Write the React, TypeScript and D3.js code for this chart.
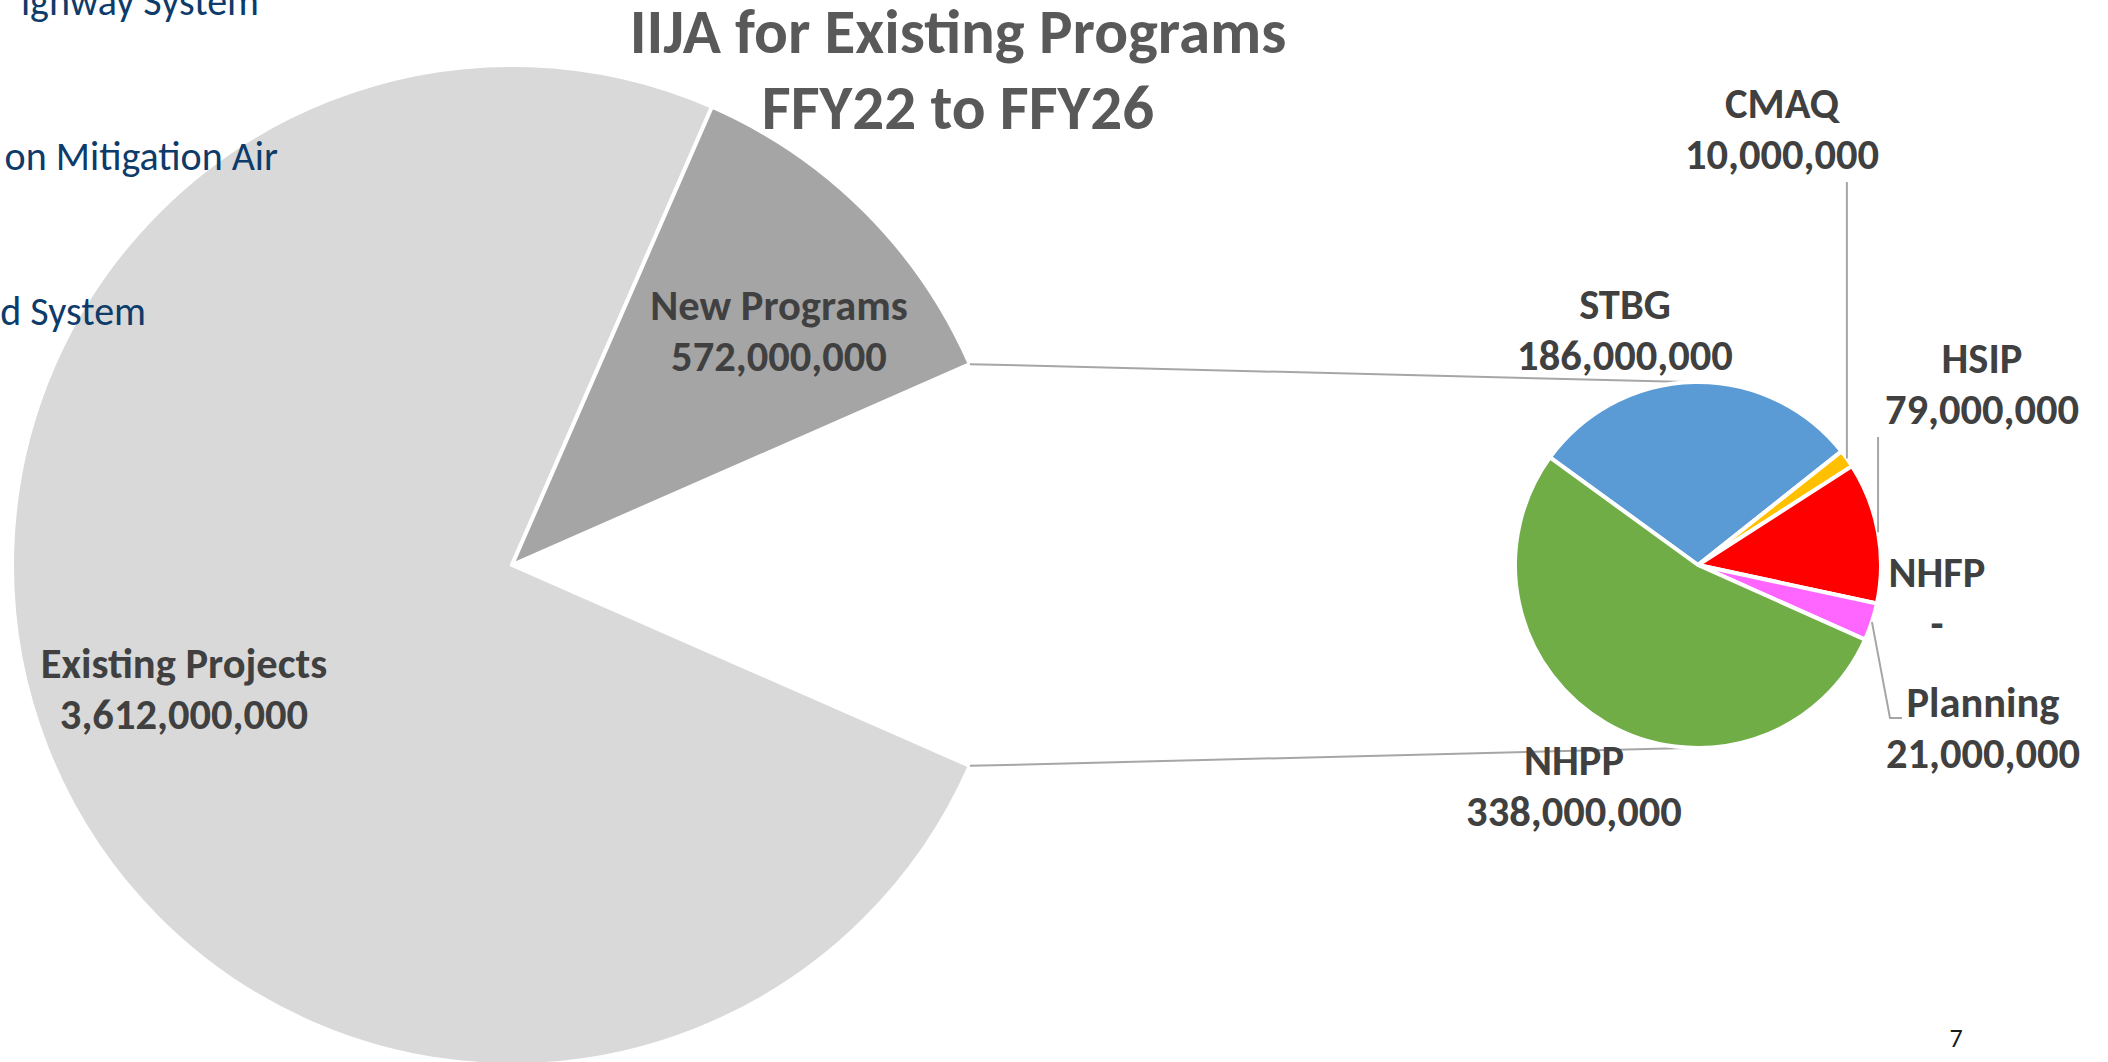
import React from "react";
import * as d3 from "d3";

// ---------- data ----------
const mainCategories = ["Existing Projects", "New Programs"];
const mainValues = [3612000000, 572000000];
const mainColors = ["#d9d9d9", "#a5a5a5"];

const subCategories = ["STBG", "CMAQ", "HSIP", "NHFP", "Planning", "NHPP"];
const subValues = [186000000, 10000000, 79000000, 0, 21000000, 338000000];
const subColors = ["#5b9bd5", "#ffc000", "#ff0000", "#a5a5a5", "#ff66ff", "#70ad47"];

const titleLines = ["IIJA for Existing Programs", "FFY22 to FFY26"];
const sideTextLines = ["ighway System", "on Mitigation Air", "d System"];
const pageNumber = "7";

// ---------- layout ----------
const W = 2108;
const H = 1062;
const FONT = "Carlito, Calibri, Lato, sans-serif";
const LABEL_COLOR = "#404040";
const LINE_COLOR = "#a6a6a6";
const LINE_GAP = 51;
const LABEL_SIZE = 42.5;

const MAIN = { cx: 512, cy: 565, r: 500 };
const SUB = { cx: 1698, cy: 565, r: 183, startDeg: -54 };

const mainLabelPos: Record<string, [number, number]> = {
  "Existing Projects": [184, 678],
  "New Programs": [779, 320],
};
const subLabelPos: Record<string, [number, number]> = {
  STBG: [1625, 319],
  CMAQ: [1782, 118],
  HSIP: [1982, 373],
  NHFP: [1937, 587],
  Planning: [1983, 717],
  NHPP: [1574, 775],
};
const sideTextEnds = [259, 278, 146];
// leader end points (label side); x of 0 means "same x as slice point"
const leaderEnds: Record<string, [number, number][]> = {
  CMAQ: [[0, 182]],
  HSIP: [[0, 437]],
  Planning: [[1890, 718], [1902, 718]],
};

const fmt = (v: number) => (v === 0 ? "-" : d3.format(",")(v));

export default function App() {
  const otherValue = d3.sum(subValues);
  const rad = Math.PI / 180;

  // main pie: [Other, Existing, New], with "Other" centred at 3 o'clock
  const mainData = [
    { name: "__other", value: otherValue, color: "none" },
    ...mainCategories.map((c, i) => ({ name: c, value: mainValues[i], color: mainColors[i] })),
  ];
  const total = d3.sum(mainData, (d) => d.value);
  const otherSpan = (otherValue / total) * 2 * Math.PI;
  const mainStart = Math.PI / 2 - otherSpan / 2;
  const mainPie = d3
    .pie<any>()
    .sort(null)
    .value((d) => d.value)
    .startAngle(mainStart)
    .endAngle(mainStart + 2 * Math.PI)(mainData);
  const mainArc = d3.arc<any>().innerRadius(0).outerRadius(MAIN.r);

  const subData = subCategories.map((c, i) => ({ name: c, value: subValues[i], color: subColors[i] }));
  const subStart = SUB.startDeg * rad;
  const subPie = d3
    .pie<any>()
    .sort(null)
    .value((d) => d.value)
    .startAngle(subStart)
    .endAngle(subStart + 2 * Math.PI)(subData);
  const subArc = d3.arc<any>().innerRadius(0).outerRadius(SUB.r);

  const otherSlice = mainPie[0];
  const pt = (cx: number, cy: number, r: number, a: number): [number, number] => [
    cx + r * Math.sin(a),
    cy - r * Math.cos(a),
  ];
  const c1a = pt(MAIN.cx, MAIN.cy, MAIN.r, otherSlice.startAngle);
  const c2a = pt(MAIN.cx, MAIN.cy, MAIN.r, otherSlice.endAngle);
  const c1b: [number, number] = [SUB.cx - 10, SUB.cy - SUB.r];
  const c2b: [number, number] = [SUB.cx - 10, SUB.cy + SUB.r];

  const line = d3.line();

  return (
    <svg
      width={W}
      height={H}
      style={{ position: "fixed", left: 0, top: 0, background: "#ffffff" }}
      fontFamily={FONT}
    >
      <rect x={0} y={0} width={W} height={H} fill="#ffffff" />

      {/* main pie */}
      <g transform={`translate(${MAIN.cx},${MAIN.cy})`}>
        {mainPie.map((s) =>
          s.data.name === "__other" ? null : (
            <path key={s.data.name} d={mainArc(s) as string} fill={s.data.color} stroke="#ffffff" strokeWidth={4} strokeLinejoin="round" />
          )
        )}
      </g>

      {/* side text from slide (cut off at left edge), drawn over the pie */}
      {sideTextLines.map((t, i) => (
        <text key={t} x={sideTextEnds[i]} y={15 + i * 155} textAnchor="end" fontSize={40} fill="#0d3b6a">
          {t}
        </text>
      ))}

      {/* connectors */}
      <path d={line([c1a, c1b]) as string} stroke={LINE_COLOR} strokeWidth={2} fill="none" />
      <path d={line([c2a, c2b]) as string} stroke={LINE_COLOR} strokeWidth={2} fill="none" />

      {/* secondary pie */}
      <g transform={`translate(${SUB.cx},${SUB.cy})`}>
        {subPie.map((s) =>
          s.value === 0 ? null : (
            <path key={s.data.name} d={subArc(s) as string} fill={s.data.color} stroke="#ffffff" strokeWidth={4} strokeLinejoin="round" />
          )
        )}
      </g>

      {/* leader lines */}
      {subPie.map((s) => {
        const ends = leaderEnds[s.data.name];
        if (!ends) return null;
        const mid = (s.startAngle + s.endAngle) / 2;
        const p0 = pt(SUB.cx, SUB.cy, SUB.r, mid);
        const pts: [number, number][] = [p0, ...ends.map((e) => [e[0] === 0 ? p0[0] : e[0], e[1]] as [number, number])];
        return <path key={"l" + s.data.name} d={line(pts) as string} stroke={LINE_COLOR} strokeWidth={2} fill="none" />;
      })}

      {/* main labels */}
      {mainCategories.map((c, i) => {
        const [x, y] = mainLabelPos[c];
        return (
          <text key={"ml" + c} textAnchor="middle" fontSize={LABEL_SIZE} fontWeight="bold" fill={LABEL_COLOR}>
            <tspan x={x} y={y}>{c}</tspan>
            <tspan x={x} y={y + LINE_GAP}>{fmt(mainValues[i])}</tspan>
          </text>
        );
      })}

      {/* sub labels */}
      {subCategories.map((c, i) => {
        const [x, y] = subLabelPos[c];
        return (
          <text key={"sl" + c} textAnchor="middle" fontSize={LABEL_SIZE} fontWeight="bold" fill={LABEL_COLOR}>
            <tspan x={x} y={y}>{c}</tspan>
            <tspan x={x} y={y + LINE_GAP}>{fmt(subValues[i])}</tspan>
          </text>
        );
      })}

      {/* title */}
      {titleLines.map((t, i) => (
        <text key={t} x={958} y={53 + i * 76} textAnchor="middle" fontSize={63} fontWeight="bold" fill="#595959">
          {t}
        </text>
      ))}

      {/* page number */}
      <text x={1956} y={1047} textAnchor="middle" fontSize={26} fill="#1a1a1a">
        {pageNumber}
      </text>
    </svg>
  );
}
